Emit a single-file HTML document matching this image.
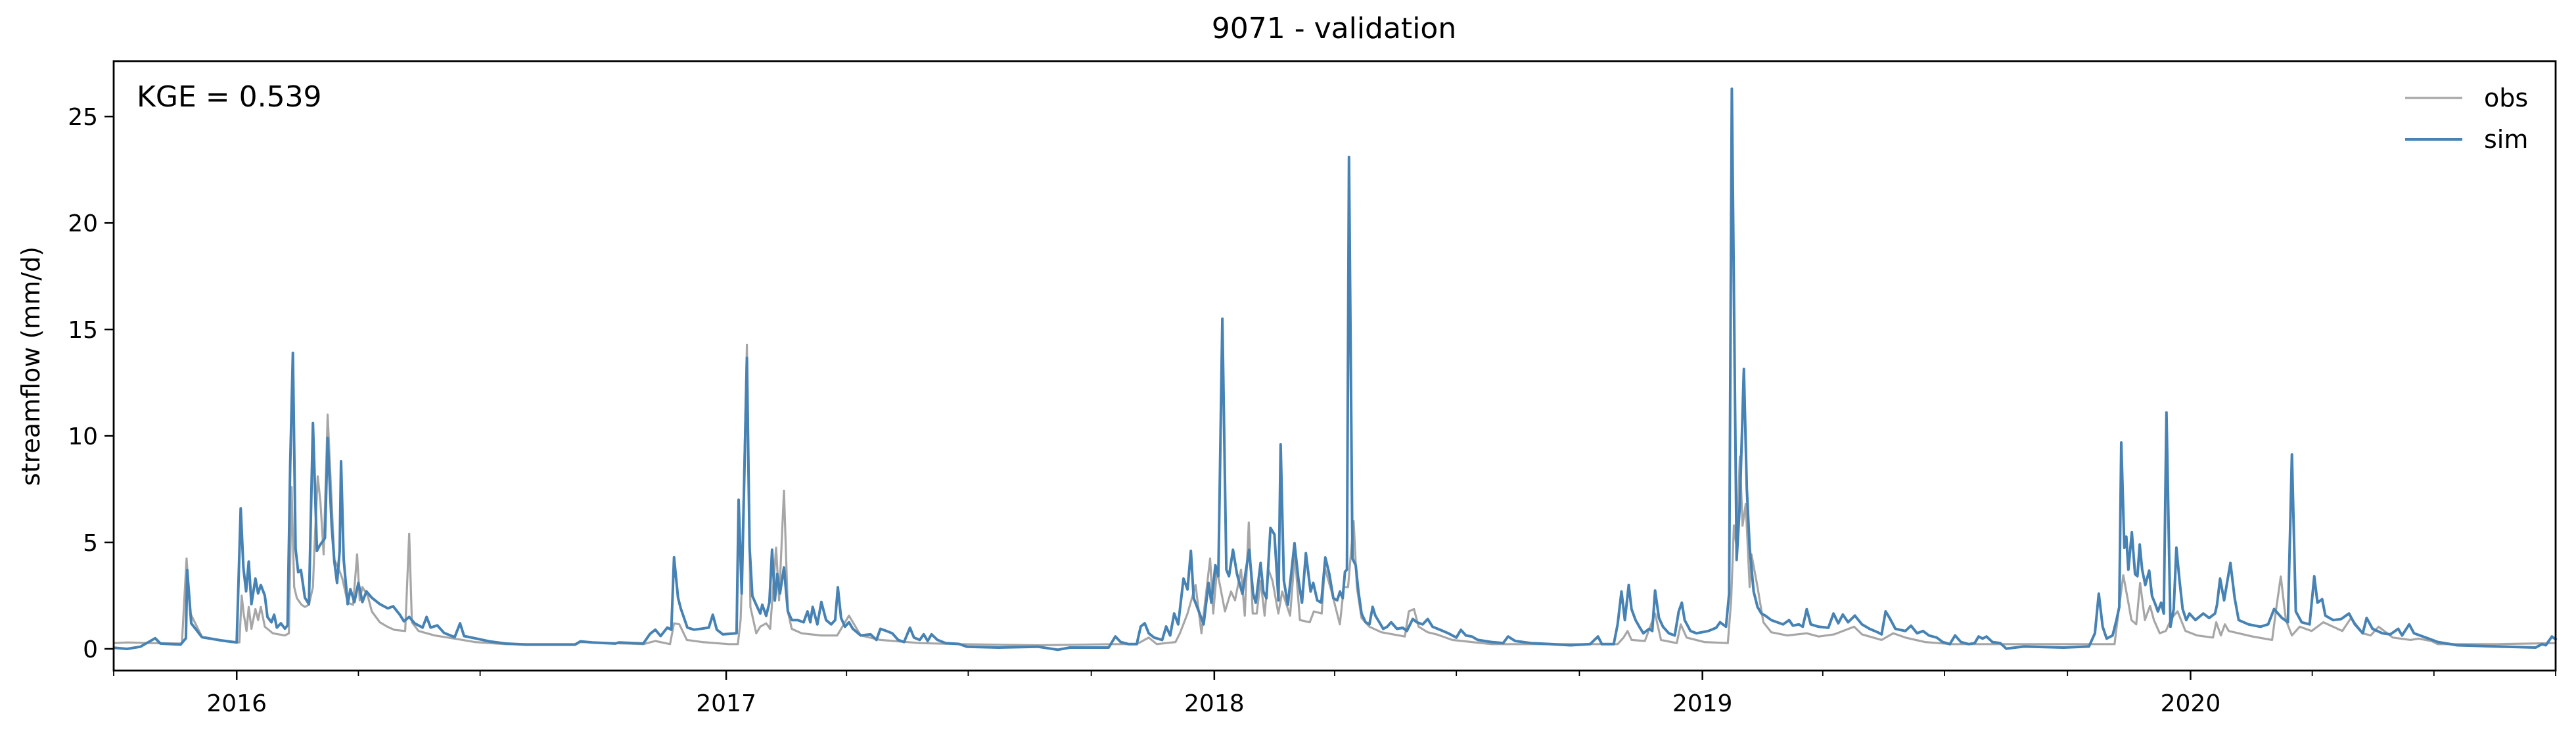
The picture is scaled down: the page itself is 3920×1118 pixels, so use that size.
<!DOCTYPE html>
<html><head><meta charset="utf-8"><style>
html,body{margin:0;padding:0;background:#fff;}
svg{display:block;font-family:"DejaVu Sans","Liberation Sans",sans-serif;}
</style></head><body>
<svg id="chart" width="3920" height="1118" viewBox="0 0 3920 1118" xmlns="http://www.w3.org/2000/svg">
<rect x="0" y="0" width="3920" height="1118" fill="#fff"/>
<text x="2030" y="58" font-size="44" text-anchor="middle" fill="#000">9071 - validation</text>
<text x="0" y="0" transform="translate(60,557) rotate(-90)" font-size="38" text-anchor="middle" fill="#000">streamflow (mm/d)</text>
<g id="grid"></g>
<g id="series"></g>
<g id="axes"></g>
<text x="208" y="162" font-size="44" fill="#000">KGE = 0.539</text>
<g>
<line x1="3660" y1="149" x2="3747" y2="149" stroke="#a6a6a6" stroke-width="3.2"/>
<text x="3780" y="162" font-size="38" fill="#000">obs</text>
<line x1="3660" y1="212" x2="3747" y2="212" stroke="#4682b4" stroke-width="4"/>
<text x="3780" y="225" font-size="38" fill="#000">sim</text>
</g>
</svg>
<script>
// day index from 2015-10-01
const yTicks = [0, 5, 10, 15, 20, 25];
const yearTicks = [92, 458, 823, 1188, 1553];
const yearLabels = ["2016", "2017", "2018", "2019", "2020"];
const minorTicks = [0, 183, 274, 548, 639, 731, 913, 1004, 1096, 1278, 1369, 1461, 1644, 1735, 1826];
const simDays = [0,10,20,31,35,50,54,55,58,66,80,92,95,97,99,101,103,106,108,110,113,115,118,120,122,125,128,130,132,134,136,138,140,143,146,149,152,154,158,160,163,165,167,169,170,172,175,177,180,183,186,189,193,199,205,209,214,217,221,225,231,234,237,242,247,255,259,262,270,281,293,308,345,349,358,375,378,396,401,405,409,414,417,419,422,424,429,434,440,445,448,451,455.5,465.8,467.3,469.6,473.5,475.5,477.6,480.5,483.5,485,487.9,490.3,492.3,494.4,496.2,498.2,501.2,504.1,507.1,511.5,515.9,518.8,520.9,522.7,526.2,529.2,532.7,536.5,539.5,541.5,543.9,546.8,549.8,552.7,558.6,566,570.4,573.3,577.8,582.2,586.6,591,595.4,598.4,602.8,605.7,608.7,611.6,616,622,632,638,662,691,706,715,744,749,753,759,765,768,771,774,778,784,787,790,793,796,800,803,805.5,807.6,812,815,818.7,820.8,823.8,826,829,832,834,837,840,844,849,852,854,857.6,859.7,862,865,868,871,872.6,875,878,883,886,888.6,891.5,895,897,900,903,906,909,912,914.9,917,919,920.7,922.2,923.7,926.3,928.7,930.8,933.1,936.1,939,941.4,943.4,946.4,949.3,952.3,955.2,959.6,964,967,971.4,974.4,978.8,982.6,986.2,992,998,1004,1007.4,1011.2,1015.6,1020,1030.3,1039,1042.7,1048,1059.8,1074.5,1089.3,1104,1109.9,1112.8,1121.7,1124.6,1127.5,1130,1132.9,1135,1138,1140.8,1143.8,1148.2,1150.5,1152.6,1155.5,1158.5,1162.9,1167.3,1170.3,1172.6,1174.7,1179.1,1183.5,1192.4,1198.3,1201.2,1205.6,1208,1210,1213.6,1216,1219,1221.2,1223.3,1226.3,1229.2,1232.1,1235,1239.5,1243.9,1248.3,1252.8,1255.7,1260.1,1263,1266,1269,1274.8,1282.2,1286,1289.6,1293,1296.9,1302,1307.3,1313,1319,1322,1325,1328,1332.3,1339.7,1344,1348.5,1353,1357.3,1363.2,1367.7,1373,1376.9,1381.3,1387.2,1391.6,1394.5,1397.5,1400.4,1404.9,1410.7,1415.2,1428.4,1457.9,1477,1481.5,1484.4,1487.3,1490.3,1494.7,1497.6,1499.7,1501.2,1503.5,1505,1506.5,1509.1,1511.5,1513.3,1515,1516.8,1519.2,1522.1,1524.2,1526.2,1528.6,1531,1533,1535,1538,1540.4,1542.4,1544.8,1547.1,1549.8,1552.2,1556.6,1562.5,1566.9,1571.3,1572.8,1575.1,1578.1,1582.8,1586,1589,1596.3,1605.2,1611,1615.5,1618.4,1621.4,1625.8,1628.8,1631.7,1636.1,1642,1645.5,1647.9,1651.4,1653.8,1659.7,1665.6,1671.5,1675.9,1681.8,1684.7,1689.1,1696.5,1702.4,1708.3,1711.2,1716.5,1720.1,1728.9,1738,1752.5,1782,1811,1815.8,1818.7,1823.2,1826.7];
const simVals = [0.05,0.0,0.1,0.5,0.25,0.2,0.5,3.7,1.2,0.55,0.4,0.3,6.6,3.8,2.7,4.1,2.1,3.3,2.6,3.0,2.5,1.5,1.25,1.6,1.0,1.2,0.95,1.1,8.6,13.9,4.7,3.6,3.7,2.4,2.1,10.6,4.6,4.85,5.2,9.9,5.8,4.1,3.1,4.6,8.8,4.2,2.1,2.8,2.2,3.1,2.2,2.7,2.4,2.1,1.9,2.0,1.6,1.3,1.5,1.2,1.0,1.5,1.0,1.1,0.75,0.55,1.2,0.6,0.5,0.35,0.25,0.2,0.2,0.35,0.3,0.25,0.3,0.25,0.7,0.9,0.6,1.0,0.9,4.3,2.4,1.9,1.0,0.9,0.95,1.0,1.6,0.9,0.68,0.73,7.0,2.6,13.66,4.75,2.48,2.07,1.66,2.07,1.55,2.17,4.65,2.27,3.51,2.6,3.82,1.76,1.35,1.35,1.25,1.76,1.25,1.97,1.15,2.2,1.35,1.15,1.35,2.89,1.45,1.04,1.25,0.94,0.63,0.68,0.42,0.94,0.84,0.73,0.42,0.32,0.99,0.53,0.42,0.68,0.37,0.68,0.42,0.27,0.23,0.1,0.06,0.1,-0.04,0.06,0.06,0.58,0.32,0.22,0.22,1.05,1.2,0.73,0.53,0.42,1.05,0.63,1.66,1.15,3.3,2.79,4.6,2.38,1.66,1.15,3.1,2.17,3.93,3.41,15.5,3.72,3.41,4.65,3.51,2.59,4.65,2.59,2.17,4.03,2.69,2.38,5.68,5.37,2.28,9.6,3.2,2.07,4.96,3.2,2.17,4.49,2.69,3.1,2.28,2.17,4.29,3.51,2.38,2.28,2.69,2.38,3.62,3.72,23.1,4.24,3.93,2.69,1.66,1.25,1.15,1.97,1.56,1.25,0.94,1.04,1.25,0.94,0.99,0.84,1.4,1.25,1.15,1.4,1.04,0.89,0.73,0.53,0.89,0.63,0.58,0.42,0.32,0.27,0.58,0.37,0.27,0.22,0.17,0.22,0.58,0.22,0.22,1.15,2.69,1.35,3.0,1.86,1.35,1.04,0.73,0.94,0.84,2.74,1.45,1.04,0.73,0.63,1.76,2.17,1.35,0.84,0.73,0.84,0.99,1.25,1.04,2.59,26.3,4.18,6.81,13.14,7.53,4.75,2.69,1.97,1.66,1.56,1.35,1.25,1.15,1.35,1.09,1.15,1.04,1.86,1.15,1.04,0.99,1.66,1.2,1.61,1.25,1.56,1.15,0.94,0.78,0.68,1.76,1.45,0.94,0.84,1.09,0.73,0.84,0.63,0.53,0.32,0.22,0.63,0.32,0.22,0.27,0.58,0.48,0.58,0.32,0.27,0.01,0.11,0.06,0.11,0.73,2.59,1.04,0.48,0.63,1.35,1.97,9.69,4.75,5.27,3.72,5.47,3.51,3.41,4.9,3.72,3.0,3.67,2.48,2.17,1.76,2.17,1.66,11.1,1.04,1.86,4.75,3.2,1.87,1.35,1.66,1.35,1.66,1.45,1.66,2.07,3.3,2.28,4.03,2.38,1.35,1.15,1.04,1.15,1.87,1.66,1.45,1.25,9.13,1.76,1.25,1.15,3.4,2.17,2.33,1.56,1.35,1.4,1.66,1.15,0.73,1.45,0.94,0.73,0.68,0.94,0.63,1.15,0.73,0.53,0.32,0.17,0.11,0.06,0.22,0.17,0.58,0.42];
const obsDays = [0,10,28,51,54.5,57.4,66.3,87,94,95.7,97.2,99.3,101,103,106,108,110,113,119,128,131,133,135,137,140.5,143,146,149,150,152.6,154.6,157,160,162.3,165,168,171,175,179,182,184,186,190,193,199,204.6,210,218,221,223,228,240,255,270,293,346,349,396,405,416,419,423,428.6,440,460,466.7,468.8,469.5,473.5,476.1,480.5,483.5,487.9,490.9,495.3,497.6,501.2,504.1,507,514.4,529.2,541,549.8,558.6,573.3,602.8,632,691,747,765,774,780,794,797.3,803,809,813.4,819.9,822.2,825,831,835.5,838.5,843,845.8,848.8,851.7,854.7,857.6,860.6,863.5,866.5,870.9,873.8,879.7,883.2,887,894.4,897.4,903.3,905.6,910.7,916.9,919.9,923,927.2,929.6,933.1,939,947.9,956.7,965.5,968.5,972.3,975.8,982.6,989.1,1000.9,1015.6,1030.3,1059.8,1124.6,1129,1132,1135,1145,1152.6,1157,1168.8,1171.8,1176.2,1189.4,1207,1209.5,1211.5,1213.6,1216,1218,1220.4,1223.3,1224.7,1229.2,1233.6,1239.5,1251.3,1266,1275,1286.5,1301.5,1307.3,1322,1330.7,1339.7,1354.4,1374.4,1496.2,1499,1502.7,1506.5,1508.8,1512.4,1515.3,1518.9,1522.7,1525.6,1530,1534.5,1538.9,1543.3,1549.2,1558,1569.8,1572.2,1575.7,1578.7,1581.6,1599.3,1614,1617,1620.5,1624.3,1628.8,1634.6,1643.5,1652.3,1666.5,1673,1681.8,1687.7,1693.6,1704.3,1717.5,1723.4,1733,1737.8,1782,1826.7];
const obsVals = [0.27,0.3,0.27,0.25,4.24,1.66,0.53,0.32,0.3,2.5,1.66,0.84,1.97,0.94,1.87,1.35,1.97,1.04,0.73,0.63,0.73,7.6,2.9,2.38,2.07,1.97,2.07,2.9,4.6,8.1,6.9,4.44,11.0,7.8,4.18,3.8,3.3,2.17,2.07,4.44,2.28,2.9,2.48,1.76,1.25,1.04,0.89,0.84,5.4,1.25,0.84,0.63,0.48,0.32,0.22,0.22,0.32,0.22,0.37,0.22,1.2,1.15,0.42,0.32,0.22,0.22,1.35,2.7,14.28,1.97,0.73,1.04,1.2,0.94,4.75,2.28,7.43,1.76,0.94,0.73,0.63,0.63,1.56,0.63,0.42,0.27,0.22,0.17,0.22,0.22,0.53,0.22,0.32,0.73,1.66,3.0,0.73,4.24,1.66,3.72,1.76,2.69,2.28,3.72,1.56,5.93,1.66,1.66,3.2,1.56,3.72,3.2,1.66,2.69,1.56,4.44,1.35,1.25,1.76,1.66,3.82,2.69,1.15,2.9,2.9,6.0,2.9,1.45,1.04,0.78,0.68,0.58,1.76,1.87,1.04,0.78,0.68,0.42,0.32,0.22,0.22,0.22,0.53,0.84,0.42,0.37,1.66,0.42,0.27,1.15,0.53,0.32,0.27,2.28,5.8,4.75,9.03,5.78,6.81,2.9,4.44,2.9,1.25,0.78,0.63,0.73,0.58,0.68,1.04,0.68,0.42,0.73,0.53,0.32,0.22,0.22,1.66,3.46,2.17,1.35,1.15,3.1,1.35,2.02,1.35,0.73,0.84,1.45,1.76,0.84,0.63,0.53,1.25,0.63,1.15,0.84,0.58,0.42,1.87,3.4,1.35,0.63,1.04,0.84,1.25,0.84,1.45,0.73,0.63,1.04,0.53,0.42,0.48,0.37,0.22,0.22,0.27];

const X0 = 173, X1 = 3889, Y0 = 93, Y1 = 1020;
const DAY_MAX = 1826;
const Y_MIN = -1.02, Y_MAX = 27.6;
function xScale(d) { return X0 + (d / DAY_MAX) * (X1 - X0); }
function yScale(v) { return Y1 - (v - Y_MIN) / (Y_MAX - Y_MIN) * (Y1 - Y0); }
const NS = "http://www.w3.org/2000/svg";
function mk(tag, attrs, parent) {
  const el = document.createElementNS(NS, tag);
  for (const k in attrs) el.setAttribute(k, attrs[k]);
  parent.appendChild(el);
  return el;
}
const series = document.getElementById('series');
const axes = document.getElementById('axes');
function pathFor(days, vals) {
  let d = '';
  for (let i = 0; i < days.length; i++) {
    d += (i ? 'L' : 'M') + xScale(days[i]).toFixed(1) + ',' + yScale(vals[i]).toFixed(1);
  }
  return d;
}
const obsLine = mk('path', {d: pathFor(obsDays, obsVals), fill: 'none', stroke: '#a6a6a6', 'stroke-width': 3.2, 'stroke-linejoin': 'round'}, series);


const simLine = mk('path', {d: pathFor(simDays, simVals), fill: 'none', stroke: '#4682b4', 'stroke-width': 4, 'stroke-linejoin': 'round'}, series);



const frame = mk('rect', {x: X0, y: Y0, width: X1 - X0, height: Y1 - Y0, fill: 'none', stroke: '#000', 'stroke-width': 2.8}, axes);



yTicks.forEach(v => {
  const y = yScale(v);
  const t = mk('line', {x1: X0 - 14, x2: X0, y1: y, y2: y, stroke: '#000', 'stroke-width': 2.5}, axes);
  
  
  const l = mk('text', {x: X0 - 24, y: y + 13, 'font-size': 36, 'text-anchor': 'end', fill: '#000'}, axes);
  l.textContent = v;
  
  
});
minorTicks.forEach(d => {
  const x = xScale(d);
  const t = mk('line', {x1: x, x2: x, y1: Y1, y2: Y1 + 8, stroke: '#000', 'stroke-width': 1.8}, axes);
  
  
});
yearTicks.forEach((d, i) => {
  const x = xScale(d);
  const t = mk('line', {x1: x, x2: x, y1: Y1, y2: Y1 + 14, stroke: '#000', 'stroke-width': 2.5}, axes);
  
  
  const l = mk('text', {x: x, y: 1082, 'font-size': 36, 'text-anchor': 'middle', fill: '#000'}, axes);
  l.textContent = yearLabels[i];
  
  
});
</script>
</body></html>
